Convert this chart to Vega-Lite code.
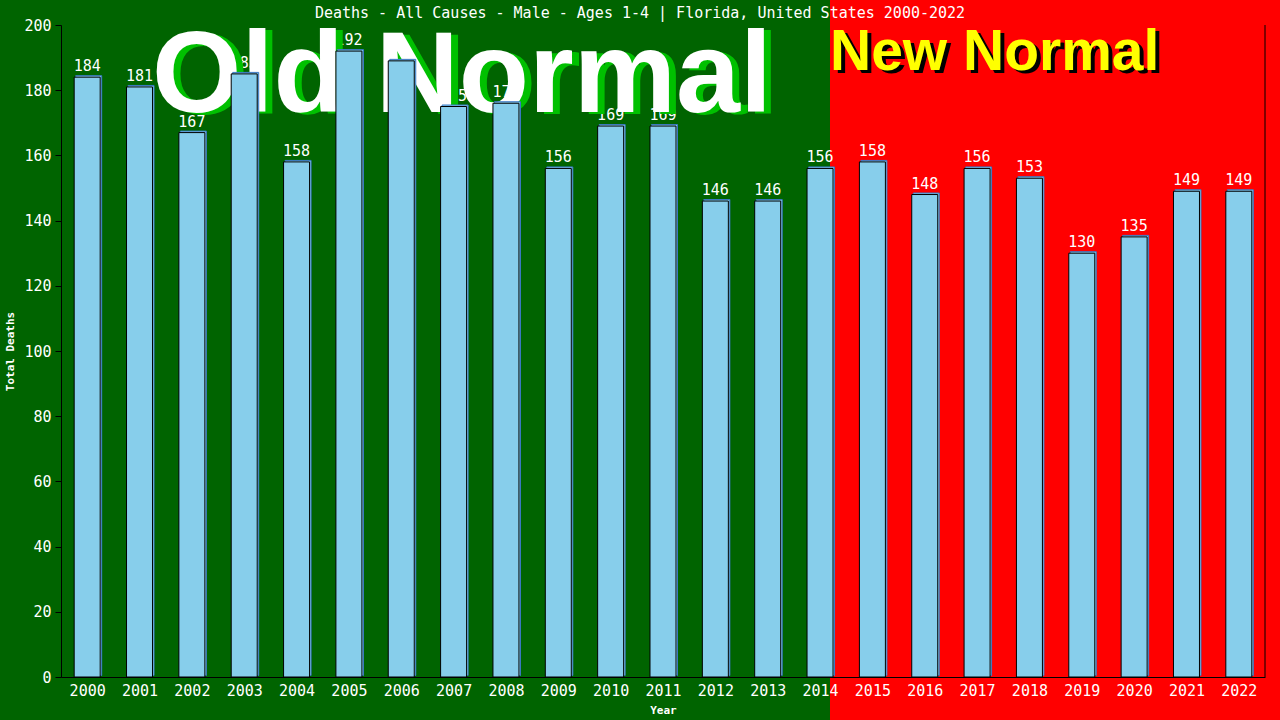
{
  "$schema": "https://vega.github.io/schema/vega-lite/v6.json",
  "width": 1204,
  "height": 652,
  "autosize": {"type": "none"},
  "padding": {"left": 61, "top": 25, "right": 15, "bottom": 43},
  "background": "#006400",
  "title": {
    "text": "Deaths - All Causes - Male - Ages 1-4 | Florida, United States 2000-2022",
    "font": "DejaVu Sans Mono",
    "fontSize": 15,
    "fontWeight": "normal",
    "color": "white",
    "anchor": "middle",
    "frame": "group",
    "dx": -23,
    "dy": 28,
    "offset": 6
  },
  "config": {
    "view": {"stroke": null},
    "font": "DejaVu Sans Mono",
    "axis": {
      "domainColor": "black",
      "tickColor": "black",
      "labelColor": "white",
      "labelFont": "DejaVu Sans Mono",
      "labelFontSize": 15,
      "titleColor": "white",
      "titleFont": "DejaVu Sans Mono",
      "titleFontSize": 11,
      "titleFontWeight": "bold",
      "grid": false
    }
  },
  "datasets": {
    "deaths": [
      {"year": 2000, "deaths": 184},
      {"year": 2001, "deaths": 181},
      {"year": 2002, "deaths": 167},
      {"year": 2003, "deaths": 185},
      {"year": 2004, "deaths": 158},
      {"year": 2005, "deaths": 192},
      {"year": 2006, "deaths": 189},
      {"year": 2007, "deaths": 175},
      {"year": 2008, "deaths": 176},
      {"year": 2009, "deaths": 156},
      {"year": 2010, "deaths": 169},
      {"year": 2011, "deaths": 169},
      {"year": 2012, "deaths": 146},
      {"year": 2013, "deaths": 146},
      {"year": 2014, "deaths": 156},
      {"year": 2015, "deaths": 158},
      {"year": 2016, "deaths": 148},
      {"year": 2017, "deaths": 156},
      {"year": 2018, "deaths": 153},
      {"year": 2019, "deaths": 130},
      {"year": 2020, "deaths": 135},
      {"year": 2021, "deaths": 149},
      {"year": 2022, "deaths": 149}
    ],
    "labels": [
      {"label": "Old Normal"},
      {"label": "New Normal"}
    ]
  },
  "layer": [
    {
      "data": {"name": "labels"},
      "transform": [{"filter": "datum.label === 'New Normal'"}],
      "mark": {"type": "rect", "color": "#ff0000", "clip": false},
      "encoding": {
        "x": {
          "datum": 2014.19,
          "type": "quantitative",
          "title": "Year",
          "scale": {"domain": [1999.5, 2022.5], "nice": false, "zero": false, "padding": 0},
          "axis": {
            "values": [2000, 2001, 2002, 2003, 2004, 2005, 2006, 2007, 2008, 2009, 2010, 2011, 2012, 2013, 2014, 2015, 2016, 2017, 2018, 2019, 2020, 2021, 2022],
            "format": "d",
            "ticks": false,
            "labelPadding": 6,
            "titlePadding": 6,
            "zindex": 1
          }
        },
        "x2": {"datum": 2023.2},
        "y": {
          "datum": 208,
          "type": "quantitative",
          "title": "Total Deaths",
          "scale": {"domain": [0, 200], "nice": false},
          "axis": {
            "values": [0, 20, 40, 60, 80, 100, 120, 140, 160, 180, 200],
            "tickSize": 6,
            "labelPadding": 4,
            "titlePadding": 8,
            "zindex": 1
          }
        },
        "y2": {"datum": -20}
      }
    },
    {
      "data": {"name": "deaths"},
      "mark": {"type": "text", "color": "white", "fontSize": 15, "baseline": "alphabetic", "dy": -6},
      "encoding": {
        "x": {"field": "year", "type": "quantitative", "title": "Year"},
        "y": {"field": "deaths", "type": "quantitative", "title": "Total Deaths"},
        "text": {"field": "deaths", "type": "quantitative"}
      }
    },
    {
      "data": {"name": "labels"},
      "transform": [{"filter": "datum.label === 'Old Normal'"}],
      "mark": {"type": "text", "font": "Liberation Sans", "fontWeight": "bold", "fontSize": 115, "color": "#00c000", "align": "center", "baseline": "alphabetic", "dx": 7, "dy": 2},
      "encoding": {"x": {"datum": 2007.16}, "y": {"datum": 173.3}, "text": {"field": "label"}}
    },
    {
      "data": {"name": "labels"},
      "transform": [{"filter": "datum.label === 'Old Normal'"}],
      "mark": {"type": "text", "font": "Liberation Sans", "fontWeight": "bold", "fontSize": 115, "color": "white", "align": "center", "baseline": "alphabetic"},
      "encoding": {"x": {"datum": 2007.16}, "y": {"datum": 173.3}, "text": {"field": "label"}}
    },
    {
      "data": {"name": "labels"},
      "transform": [{"filter": "datum.label === 'New Normal'"}],
      "mark": {"type": "text", "font": "Liberation Sans", "fontWeight": "bold", "fontSize": 57, "color": "black", "align": "left", "baseline": "alphabetic", "dx": 4, "dy": 3},
      "encoding": {"x": {"datum": 2014.19}, "y": {"datum": 186.2}, "text": {"field": "label"}}
    },
    {
      "data": {"name": "labels"},
      "transform": [{"filter": "datum.label === 'New Normal'"}],
      "mark": {"type": "text", "font": "Liberation Sans", "fontWeight": "bold", "fontSize": 57, "color": "#ffff00", "align": "left", "baseline": "alphabetic"},
      "encoding": {"x": {"datum": 2014.19}, "y": {"datum": 186.2}, "text": {"field": "label"}}
    },
    {
      "data": {"name": "deaths"},
      "mark": {"type": "bar", "width": 26, "fill": "#87ceeb", "stroke": "#3b78c4", "strokeWidth": 1, "xOffset": 1.5, "yOffset": -1.5},
      "encoding": {
        "x": {"field": "year", "type": "quantitative", "title": "Year"},
        "y": {"field": "deaths", "type": "quantitative", "title": "Total Deaths"}
      }
    },
    {
      "data": {"name": "deaths"},
      "mark": {"type": "bar", "width": 26, "fill": "#87ceeb", "stroke": "black", "strokeWidth": 1},
      "encoding": {
        "x": {"field": "year", "type": "quantitative", "title": "Year"},
        "y": {"field": "deaths", "type": "quantitative", "title": "Total Deaths"},
        "tooltip": [
          {"field": "year", "type": "quantitative", "title": "Year"},
          {"field": "deaths", "type": "quantitative", "title": "Total Deaths"}
        ]
      }
    },
    {
      "data": {"name": "labels"},
      "transform": [{"filter": "datum.label === 'New Normal'"}],
      "mark": {"type": "rule", "color": "black"},
      "encoding": {"x": {"datum": 2022.5}, "y": {"datum": 0}, "y2": {"datum": 200}}
    }
  ]
}
